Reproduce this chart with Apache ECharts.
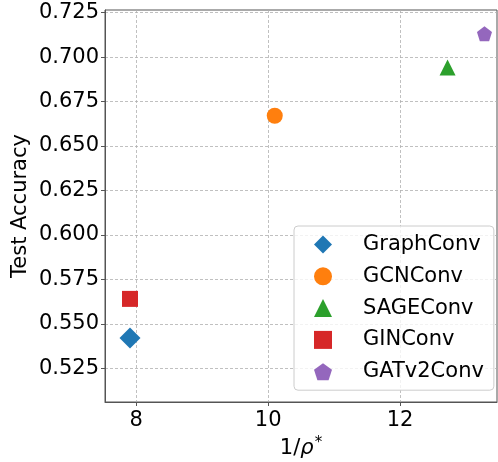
<!DOCTYPE html>
<html lang="en">
  <head>
    <meta charset="UTF-8" />
    <title>Test accuracy vs 1/rho*</title>
    <script src="https://cdn.jsdelivr.net/npm/echarts@6/dist/echarts.min.js"></script>
    <style>
      html, body { margin: 0; padding: 0; background: #fff; }
      #main { width: 498px; height: 462px; }
    </style>
  </head>
  <body>
    <div id="main"></div>

    <script>
      const models = ['GraphConv', 'GCNConv', 'SAGEConv', 'GINConv', 'GATv2Conv'];
      const invRho = [7.905, 10.10, 12.72, 7.905, 13.28];
      const accuracy = [0.542, 0.667, 0.6942, 0.564, 0.7131];
      const xTicks = [8, 10, 12];
      const yTicks = [0.525, 0.55, 0.575, 0.6, 0.625, 0.65, 0.675, 0.7, 0.725];

      const colors = ['#1f77b4', '#ff7f0e', '#2ca02c', '#d62728', '#9467bd'];
      const pentagon = 'path://M0,-1 L0.951,-0.309 L0.588,0.809 L-0.588,0.809 L-0.951,-0.309 Z';
      const symbols = ['diamond', 'circle', 'triangle', 'rect', pentagon];
      const sizes = [21, 16, 16, 16, 15];

      const font = 'DejaVu Sans';

      function makeSeries(i) {
        return {
          name: models[i],
          type: 'scatter',
          symbol: symbols[i],
          symbolSize: sizes[i],
          itemStyle: { color: colors[i], opacity: 1 },
          data: [[invRho[i], accuracy[i]]],
          z: 5,
        };
      }

      const gridLine = {
        show: true,
        lineStyle: { color: '#b0b0b0', width: 0.8, type: [3, 2] },
      };

      const options = {
        animation: false,
        grid: {
          left: 105,
          top: 10,
          right: 1,
          bottom: 60,
          outerBoundsMode: 'none',
          containLabel: false,
          show: true,
          borderColor: '#555',
          borderWidth: 1,
        },
        xAxis: {
          type: 'value',
          min: 7.526,
          max: 13.47,
          name: '{a|1/}{b|ρ}{c|*}',
          nameLocation: 'middle',
          nameGap: 34,
          nameMoveOverlap: false,
          nameTextStyle: {
            rich: {
              a: { fontFamily: font, fontSize: 21, color: '#000' },
              b: { fontFamily: font, fontSize: 21, fontStyle: 'italic', color: '#000' },
              c: { fontFamily: font, fontSize: 15, color: '#000', padding: [0, 0, 10, 1] },
            },
          },
          axisLine: { show: true, lineStyle: { color: '#555' } },
          axisTick: { show: true, customValues: xTicks, length: 4, lineStyle: { color: '#555' } },
          axisLabel: {
            customValues: xTicks,
            fontFamily: font,
            fontSize: 21,
            color: '#000',
            margin: 8,
          },
          splitLine: gridLine,
        },
        yAxis: {
          type: 'value',
          min: 0.506,
          max: 0.7265,
          name: 'Test Accuracy',
          nameLocation: 'middle',
          nameGap: 74,
          nameMoveOverlap: false,
          nameTextStyle: { fontFamily: font, fontSize: 21, color: '#000' },
          axisLine: { show: true, lineStyle: { color: '#555' } },
          axisTick: { show: true, customValues: yTicks, length: 4, lineStyle: { color: '#555' } },
          axisLabel: {
            customValues: yTicks,
            fontFamily: font,
            fontSize: 21,
            color: '#000',
            margin: 6,
            formatter: (v) => v.toFixed(3),
          },
          splitLine: gridLine,
        },
        legend: {
          orient: 'vertical',
          left: 294,
          top: 226,
          padding: [8, 10, 8, 20],
          itemWidth: 18,
          itemHeight: 18,
          itemGap: 10.8,
          backgroundColor: 'rgba(255,255,255,0.8)',
          borderColor: '#ccc',
          borderWidth: 1,
          borderRadius: 4,
          textStyle: {
            fontFamily: font,
            fontSize: 21,
            color: '#000',
            padding: [0, 0, 0, 26],
          },
          data: models.map((m, i) => ({ name: m, icon: symbols[i] })),
        },
        series: models.map((m, i) => makeSeries(i)),
      };

      const myChart = echarts.init(document.getElementById('main'), null, { renderer: 'canvas' });
      myChart.setOption(options);
    </script>
  </body>
</html>
